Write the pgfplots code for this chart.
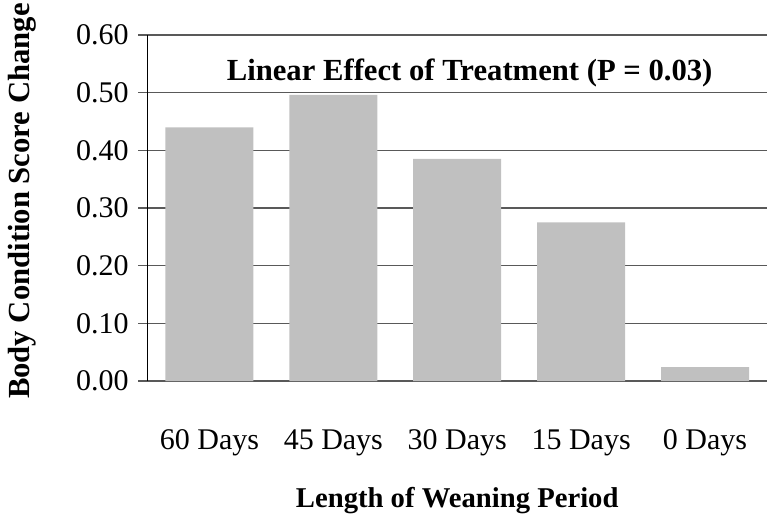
\documentclass[border=0pt]{standalone}
\usepackage{fontspec}
\setmainfont{Liberation Serif}
\usepackage{pgfplots}
\pgfplotsset{compat=1.18}
\definecolor{barfill}{HTML}{C0C0C0}
\definecolor{gridcol}{HTML}{595959}

\begin{document}
\begin{tikzpicture}
\useasboundingbox (-110.6pt,-105pt) rectangle (464.6pt,285.75pt);
\begin{axis}[
    at={(0,0)}, anchor=south west,
    scale only axis,
    width=464.6pt, height=259.5pt,
    ybar, bar width=66pt,
    xmin=-0.5, xmax=4.5,
    ymin=0, ymax=0.6,
    xtick=data,
    xticklabels={60 Days, 45 Days, 30 Days, 15 Days, 0 Days},
    ytick={0,0.1,0.2,0.3,0.4,0.5,0.6},
    yticklabel style={/pgf/number format/fixed,
        /pgf/number format/fixed zerofill,
        /pgf/number format/precision=2,
        anchor=east, inner sep=0pt, xshift=-7pt},
    /pgf/number format/assume math mode=true,
    axis x line*=bottom, axis y line*=left,
    x axis line style={-, draw=gridcol, line width=1pt},
    y axis line style={-, draw=black, line width=1pt},
    xtick style={draw=none},
    ytick style={draw=gridcol, line width=1pt},
    tick align=outside, major tick length=7pt,
    ymajorgrids=true,
    major grid style={draw=gridcol, line width=1pt},
    tick label style={font=\fontsize{22.5}{27}\selectfont},
    xticklabel style={anchor=base, yshift=-44.25pt},
    xlabel={Length of Weaning Period},
    ylabel={Body Condition Score Change},
    xlabel style={at={(rel axis cs:0.5,0)}, anchor=base, yshift=-94.5pt,
        font=\fontsize{21.5}{26}\selectfont\bfseries},
    ylabel style={at={(rel axis cs:-0.2025,0.52)}, anchor=center,
        font=\fontsize{23}{27}\selectfont\bfseries},
]
\addplot[fill=barfill, draw=none] coordinates {
    (0,0.44) (1,0.496) (2,0.385) (3,0.275) (4,0.024)
};
\node[font=\fontsize{23}{27}\selectfont\bfseries] at (axis cs:2.1,0.535)
    {Linear Effect of Treatment (P = 0.03)};
\end{axis}
\end{tikzpicture}
\end{document}
